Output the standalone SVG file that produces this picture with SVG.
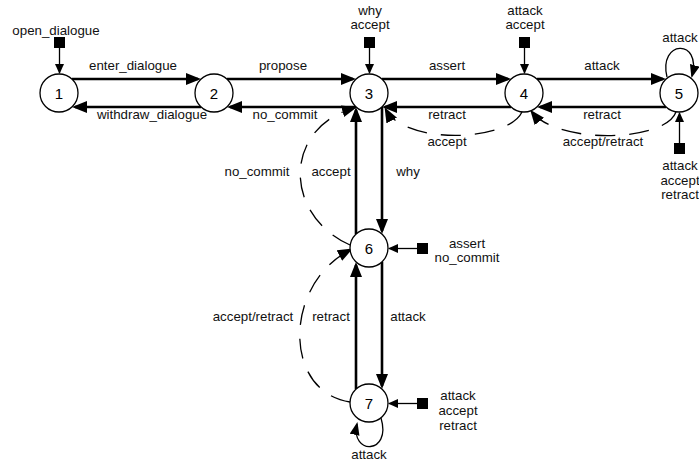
<svg xmlns="http://www.w3.org/2000/svg" width="699" height="464" viewBox="0 0 699 464">
<style>
  .node circle { fill: #fff; stroke: #000; stroke-width: 1.3; }
  .num { font-family: "Liberation Sans", Arial, sans-serif; font-size: 15px; text-anchor: middle; fill: #000; }
  .lbl { font-family: "Liberation Sans", Arial, sans-serif; font-size: 13.3px; text-anchor: middle; fill: #111; }
  .main { fill: none; stroke: #000; stroke-width: 2.6; marker-end: url(#big); }
  .dash { fill: none; stroke: #000; stroke-width: 1.3; stroke-dasharray: 20 14; marker-end: url(#big); }
  .loop { fill: none; stroke: #000; stroke-width: 1.3; marker-end: url(#mid); }
  .entry { fill: none; stroke: #000; stroke-width: 1.3; marker-end: url(#small); }
  .sq { fill: #000; }
</style>
<defs>
  <marker id="big" markerUnits="userSpaceOnUse" markerWidth="16" markerHeight="13" refX="12" refY="6" orient="auto">
    <path d="M0,0 L15,6 L0,12 z" fill="#000"/>
  </marker>
  <marker id="mid" markerUnits="userSpaceOnUse" markerWidth="14" markerHeight="11" refX="11" refY="5" orient="auto">
    <path d="M0,0 L13,5 L0,10 z" fill="#000"/>
  </marker>
  <marker id="small" markerUnits="userSpaceOnUse" markerWidth="11" markerHeight="10" refX="9" refY="4.5" orient="auto">
    <path d="M0,0 L10,4.5 L0,9 z" fill="#000"/>
  </marker>
</defs>
<rect width="699" height="464" fill="#fff"/>

<g id="connectors">
  <path class="main" d="M72,79 H198"/>
  <path class="main" d="M201,107 H75"/>
  <path class="main" d="M227,79 H353"/>
  <path class="main" d="M356,107 H230"/>
  <path class="main" d="M382,79 H508"/>
  <path class="main" d="M511,107 H385"/>
  <path class="main" d="M537,79 H663"/>
  <path class="main" d="M666,107 H540"/>
  <path class="main" d="M356,234 V110"/>
  <path class="main" d="M382,107 V231"/>
  <path class="main" d="M356,389 V265"/>
  <path class="main" d="M382,262 V386"/>

  <path class="dash" d="M522,112 C508,142 405,145 386,110"/>
  <path class="dash" d="M676,112 C665,142 558,145 532,112"/>
  <path class="dash" d="M350,245 C283,215 283,128 354,108"/>
  <path class="dash" d="M350,402 C283,392 283,285 350,250"/>

  <path class="loop" d="M667,77 C658,40 702,38 692,76"/>
  <path class="loop" d="M381,418 C392,455 350,455 357,424"/>

  <rect class="sq" x="54" y="37" width="11" height="11"/>
  <path class="entry" d="M59.5,48 V73"/>
  <rect class="sq" x="364" y="37" width="11" height="11"/>
  <path class="entry" d="M369.5,48 V73"/>
  <rect class="sq" x="519" y="37" width="11" height="11"/>
  <path class="entry" d="M524.5,48 V73"/>
  <rect class="sq" x="674" y="143" width="11" height="11"/>
  <path class="entry" d="M679.5,143 V113"/>
  <rect class="sq" x="417" y="243" width="11" height="11"/>
  <path class="entry" d="M417,248.5 H389"/>
  <rect class="sq" x="417" y="398" width="11" height="11"/>
  <path class="entry" d="M417,403.5 H389"/>

  <text class="lbl" x="56" y="35">open_dialogue</text>
  <text class="lbl" x="370" y="15">why</text>
  <text class="lbl" x="370" y="29">accept</text>
  <text class="lbl" x="525" y="15">attack</text>
  <text class="lbl" x="525" y="29">accept</text>
  <text class="lbl" x="680" y="42">attack</text>
  <text class="lbl" x="680" y="170">attack</text>
  <text class="lbl" x="680" y="185">accept</text>
  <text class="lbl" x="680" y="199">retract</text>
  <text class="lbl" x="467" y="248">assert</text>
  <text class="lbl" x="467" y="262">no_commit</text>
  <text class="lbl" x="458" y="400">attack</text>
  <text class="lbl" x="458" y="415">accept</text>
  <text class="lbl" x="458" y="430">retract</text>
  <text class="lbl" x="369" y="459">attack</text>

  <text class="lbl" x="133" y="70">enter_dialogue</text>
  <text class="lbl" x="152" y="119">withdraw_dialogue</text>
  <text class="lbl" x="283" y="70">propose</text>
  <text class="lbl" x="285" y="119">no_commit</text>
  <text class="lbl" x="447" y="70">assert</text>
  <text class="lbl" x="447" y="119">retract</text>
  <text class="lbl" x="447" y="146">accept</text>
  <text class="lbl" x="602" y="70">attack</text>
  <text class="lbl" x="602" y="119">retract</text>
  <text class="lbl" x="603" y="146">accept/retract</text>
  <text class="lbl" x="257" y="176">no_commit</text>
  <text class="lbl" x="331" y="176">accept</text>
  <text class="lbl" x="408" y="176">why</text>
  <text class="lbl" x="253" y="321">accept/retract</text>
  <text class="lbl" x="331" y="321">retract</text>
  <text class="lbl" x="408" y="321">attack</text>
</g>

<g id="n1" class="node"><circle cx="59" cy="93" r="19"/><text class="num" x="59" y="98.5">1</text></g>
<g id="n2" class="node"><circle cx="214" cy="93" r="19"/><text class="num" x="214" y="98.5">2</text></g>
<g id="n3" class="node"><circle cx="369" cy="93" r="19"/><text class="num" x="369" y="98.5">3</text></g>
<g id="n4" class="node"><circle cx="524" cy="93" r="19"/><text class="num" x="524" y="98.5">4</text></g>
<g id="n5" class="node"><circle cx="679" cy="93" r="19"/><text class="num" x="679" y="98.5">5</text></g>
<g id="n6" class="node"><circle cx="369" cy="248" r="19"/><text class="num" x="369" y="253.5">6</text></g>
<g id="n7" class="node"><circle cx="369" cy="403" r="19"/><text class="num" x="369" y="408.5">7</text></g>
</svg>
